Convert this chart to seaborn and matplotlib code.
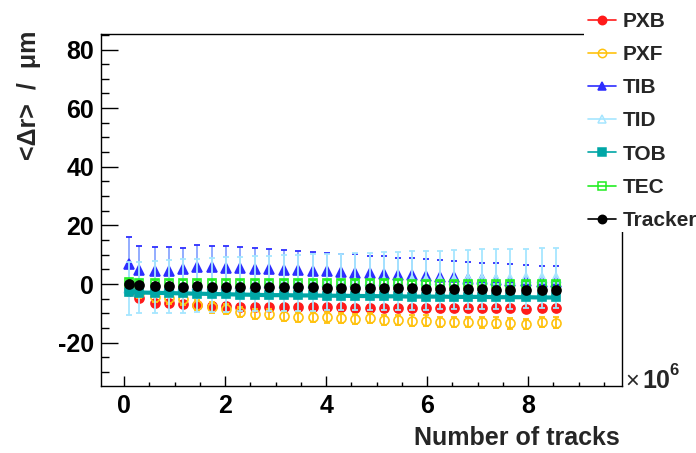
import matplotlib
matplotlib.use("Agg")
import matplotlib.pyplot as plt
from matplotlib.lines import Line2D
from matplotlib.patches import Rectangle
from matplotlib.ticker import MultipleLocator
import seaborn as sns
import numpy as np
import pandas as pd

# Number of tracks (in units of 10^6)
n_tracks = [0.10, 0.30, 0.60, 0.88, 1.16, 1.45, 1.74, 2.02, 2.30, 2.60, 2.87,
            3.16, 3.45, 3.73, 4.02, 4.30, 4.57, 4.87, 5.15, 5.43, 5.70, 5.98,
            6.26, 6.53, 6.81, 7.09, 7.37, 7.65, 7.96, 8.27, 8.55]

pxb = [-2.5, -4.9, -6.4, -6.4, -6.8, -7.2, -7.5, -7.5, -7.7, -8.0, -8.0,
       -8.0, -8.0, -7.9, -8.0, -8.0, -8.1, -8.1, -8.1, -8.2, -8.2, -8.2,
       -8.2, -8.3, -8.3, -8.3, -8.3, -8.3, -8.4, -8.3, -8.3]
pxb_err = [1.0] * 31

pxf = [-1.0, -3.0, -4.3, -4.9, -5.2, -7.2, -8.0, -8.6, -9.5, -10.2, -10.2,
       -10.9, -11.2, -11.2, -11.4, -11.6, -11.9, -11.6, -12.3, -12.3, -12.5, -12.5,
       -12.9, -12.9, -12.9, -13.1, -13.2, -13.4, -13.7, -12.9, -13.2]
pxf_err = [1.8] * 31

tib = [6.7, 4.8, 4.5, 4.5, 5.0, 5.7, 5.7, 5.6, 5.5, 5.2, 5.0,
       4.8, 4.7, 4.4, 4.3, 4.0, 3.9, 3.6, 3.4, 3.1, 3.0, 2.8,
       2.5, 2.3, 1.8, 1.6, 1.2, 1.1, 0.9, 0.8, 0.8]
tib_err = [9.2, 8.3, 8.2, 8.0, 7.4, 7.5, 7.4, 7.3, 7.0, 7.0, 6.9,
           6.7, 6.5, 6.4, 6.4, 6.3, 6.2, 6.1, 6.0, 5.9, 5.8, 5.7,
           5.7, 5.7, 5.8, 5.7, 5.8, 5.7, 5.6, 5.5, 5.5]

tid = [-1.5, -1.2, -1.0, -0.8, -0.7, -0.5, -0.3, -0.2, 0.0, 0.1, 0.2,
       0.3, 0.4, 0.5, 0.6, 0.7, 0.8, 0.9, 1.0, 1.1, 1.2, 1.3,
       1.4, 1.5, 1.6, 1.7, 1.8, 1.8, 1.9, 2.0, 2.0]
tid_err = [9.0, 8.6, 8.8, 9.0, 9.1, 9.2, 9.2, 9.3, 9.3, 9.4, 9.4,
           9.5, 9.5, 9.6, 9.6, 9.7, 9.7, 9.8, 9.8, 9.9, 9.9, 10.0,
           10.0, 10.0, 10.1, 10.1, 10.2, 10.2, 10.2, 10.3, 10.3]

tob = [-2.6, -2.9, -3.0, -3.1, -3.2, -3.3, -3.4, -3.5, -3.6, -3.7, -3.8,
       -3.8, -3.9, -3.9, -4.0, -4.0, -4.1, -4.1, -4.2, -4.2, -4.3, -4.3,
       -4.3, -4.4, -4.4, -4.4, -4.5, -4.5, -4.5, -4.6, -4.6]
tob_err = [0.8] * 31

tec = [0.6, 0.4, 0.3, 0.3, 0.3, 0.2, 0.3, 0.3, 0.2, 0.2, 0.2,
       0.2, 0.2, 0.2, 0.2, 0.2, 0.2, 0.2, 0.2, 0.2, 0.1, 0.1,
       0.1, 0.1, 0.1, 0.1, 0.1, 0.0, 0.0, 0.0, 0.1]
tec_err = [1.0] * 31

tracker = [0.0, -0.5, -0.7, -0.7, -0.9, -0.7, -0.9, -0.9, -0.9, -1.1, -1.1,
           -1.1, -1.1, -1.1, -1.3, -1.3, -1.4, -1.4, -1.4, -1.4, -1.5, -1.6,
           -1.7, -1.7, -1.8, -1.8, -1.9, -1.9, -2.0, -2.0, -2.1]
tracker_err = [0.6] * 31

labels = ["PXB", "PXF", "TIB", "TID", "TOB", "TEC", "Tracker"]

sns.set_theme(style="ticks")
plt.rcParams["font.family"] = ["Liberation Sans", "DejaVu Sans"]
plt.rcParams["font.weight"] = "bold"
plt.rcParams["axes.unicode_minus"] = False

# name, values, errors, colour, bar colour, marker, filled, marker size, line width
series = [
    ("PXB", pxb, pxb_err, "#ff1a1a", "#ff1a1a", "o", True, 6.5, 0),
    ("PXF", pxf, pxf_err, "#ffc20e", "#ffc20e", "o", False, 6.5, 0),
    ("TIB", tib, tib_err, "#2e2eff", "#8aa6ff", "^", True, 6.5, 0),
    ("TID", tid, tid_err, "#a6e6ff", "#a6e6ff", "^", False, 6.5, 0),
    ("TOB", tob, tob_err, "#00a6a6", "#00a6a6", "s", True, 6.0, 3.0),
    ("TEC", tec, tec_err, "#22ee22", "#22ee22", "s", False, 6.0, 0),
    ("Tracker", tracker, tracker_err, "#000000", "#000000", "o", True, 6.5, 0),
]

fig = plt.figure(figsize=(6.96, 4.53), dpi=100)
ax = fig.add_axes([101 / 696, 1 - 386 / 453, (622 - 101) / 696, (386 - 34) / 453])

x = np.array(n_tracks) * 1e6
handles = []
for i, (name, vals, errs, col, barcol, mk, filled, ms, lw) in enumerate(series):
    df = pd.DataFrame({"tracks": x, "dr": vals})
    _, caps, bars = ax.errorbar(x, vals, yerr=errs, fmt="none", ecolor=col,
                                elinewidth=1.3, capsize=2.5, capthick=1.3,
                                zorder=2 + i)
    for b in bars:
        b.set_color(barcol)
    fc = col if filled else "none"
    sns.lineplot(data=df, x="tracks", y="dr", ax=ax, color=col,
                 linestyle="-" if lw else "", linewidth=lw, marker=mk,
                 markersize=ms, markerfacecolor=fc, markeredgecolor=col,
                 markeredgewidth=1.2, zorder=2.5 + i, sort=False)
    handles.append(Line2D([], [], color=col, lw=1.2, marker=mk, markersize=6,
                          markerfacecolor=fc, markeredgecolor=col,
                          markeredgewidth=1.1))

ax.set_xlim(-0.46e6, 9.86e6)
ax.set_ylim(-34.8, 85.3)
ax.xaxis.set_major_locator(MultipleLocator(2e6))
ax.xaxis.set_minor_locator(MultipleLocator(0.5e6))
ax.yaxis.set_major_locator(MultipleLocator(20))
ax.yaxis.set_minor_locator(MultipleLocator(5))
ax.xaxis.set_major_formatter(plt.FuncFormatter(lambda v, p: f"{v / 1e6:.0f}"))
ax.set_xlabel("")
ax.set_ylabel("")

ax.tick_params(axis="both", which="both", direction="in", top=False, right=False,
               labelsize=18, colors="black")
ax.tick_params(axis="y", which="major", length=12, width=1, pad=5)
ax.tick_params(axis="y", which="minor", length=6, width=1)
ax.tick_params(axis="x", which="major", length=7, width=1, pad=6)
ax.tick_params(axis="x", which="minor", length=3, width=1)
for lab in ax.get_xticklabels() + ax.get_yticklabels():
    lab.set_fontweight("bold")
for sp in ax.spines.values():
    sp.set_color("black")
    sp.set_linewidth(1.0)
ax.grid(False)

# axis titles
fig.text(620 / 696, 1 - 438 / 453, "Number of tracks", ha="right", va="center",
         fontsize=18, fontweight="bold")
fig.text(29 / 696, 1 - 31 / 453, "<Δr>  /  μm", rotation=90, ha="center",
         va="top", fontsize=18, fontweight="bold")

# exponent of the x axis
fig.text(625 / 696, 1 - 388 / 453, "×", ha="left", va="baseline",
         fontsize=17, fontweight="normal")
fig.text(642 / 696, 1 - 388 / 453, "10", ha="left", va="baseline",
         fontsize=18, fontweight="bold")
fig.text(669 / 696, 1 - 375 / 453, "6", ha="left", va="baseline",
         fontsize=12, fontweight="bold")

# legend panel on the upper right
fig.patches.append(Rectangle((584 / 696, 1 - 232 / 453), 112 / 696, 232 / 453,
                             transform=fig.transFigure, facecolor="white",
                             edgecolor="none", zorder=3))
leg = fig.legend(handles, labels, loc="upper left",
                 bbox_to_anchor=(588 / 696, 1 - 12 / 453), frameon=False,
                 prop={"weight": "bold", "size": 15},
                 handlelength=1.35, handletextpad=0.3, labelspacing=0.68,
                 borderaxespad=0, borderpad=0)
leg.set_zorder(5)

fig.savefig("out.png", dpi=100)
